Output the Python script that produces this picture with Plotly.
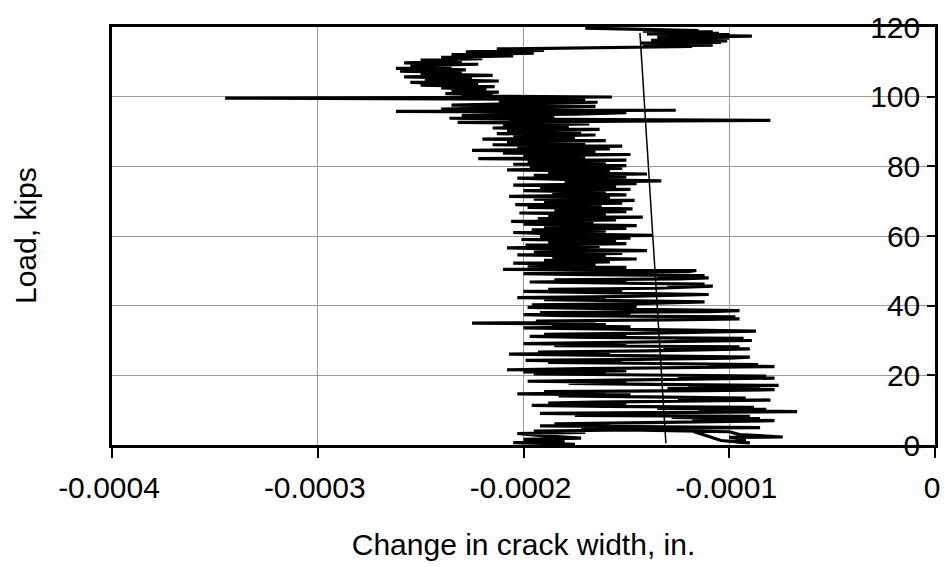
import plotly.graph_objects as go

# crack width readings in micro-inches (converted to inches below) and load in kips
width_uin = [
    -175, -205, -180, -200, -172, -190, -203, -170, -195, -150, -100, -95, -74, -100, -92, -98, -90, -104, -120, -172, -85,
    -150, -192, -158, -185, -140, -110, -78, -118, -85, -128, -90, -175, -145, -192, -100, -67, -115, -82, -135, -88,
    -160, -196, -150, -188, -165, -120, -80, -125, -92, -140, -183, -148, -203, -160, -190, -112, -78, -130, -85, -120,
    -76, -138, -178, -150, -198, -155, -105, -78, -125, -82,
    -140, -195, -160, -200, -150, -208, -170, -125, -78, -110, -86, -135, -188, -152, -199, -145, -100, -90, -128, -170,
    -207, -158, -193, -140, -105, -90, -132, -95, -185, -150, -200, -162, -118, -89, -126, -93, -168, -197, -150, -190,
    -138, -100, -87, -120, -175, -200, -148, -186, -160, -225, -165, -194, -130, -95, -122, -97, -180, -200, -148, -192,
    -110, -95, -135, -170, -198, -145,
    -196, -150, -120, -112, -145, -190, -160, -203, -155, -130, -110, -140, -175, -200, -152, -188, -135, -115, -108, -130,
    -112, -160, -197, -150, -185, -125, -110, -135, -112, -170, -200, -148, -120, -116, -210, -160,
    -150, -198, -165, -205, -158, -190, -145, -186, -160, -203, -152, -195, -140, -180, -208, -163, -199, -150, -188, -155,
    -201, -148, -192, -137, -185, -205, -160, -196, -150, -190, -145, -200, -166, -206, -155, -193, -142, -188, -160, -202,
    -150, -185, -147, -198, -162, -204, -152, -190, -146, -195, -158, -207, -150, -186, -160, -200, -148, -192, -155, -205,
    -145, -180, -133, -175, -203, -150, -195, -140, -188, -158, -208, -152, -197, -150, -205, -160, -198, -150, -222, -170,
    -200, -148, -210, -165, -225, -158, -203, -152, -215, -170, -208, -160, -220, -175, -205, -165, -213, -172, -208, -163,
    -215, -178, -210, -168, -232, -150, -80, -160, -236, -185, -230, -175,
    -150, -262, -126, -240, -200, -165, -235, -190, -164, -212, -170, -345, -157, -230,
    -215, -238, -212, -235, -218, -240, -214, -250, -222, -255, -212, -248, -225, -258, -215, -250, -230, -260, -228, -262,
    -235, -255, -222, -258, -230, -250, -220, -240, -205, -235, -195, -228, -190, -213,
    -170, -140, -118, -142, -108, -135, -112, -143, -104, -130, -101, -138, -106, -128, -100, -135, -103, -89, -120, -100,
    -140, -105, -132, -108, -142, -115, -142, -170,
]
load_kips = [
    0.2, 0.7, 1.1, 1.6, 2.0, 2.6, 3.3, 3.6, 4.0, 4.3, 3.8, 3.0, 2.3, 2.2, 1.6, 0.9, 0.6, 1.3, 4.4, 4.7, 5.0,
    5.2, 5.5, 5.8, 6.1, 6.4, 6.7, 7.0, 7.3, 7.6, 7.9, 8.2, 8.5, 8.8, 9.1, 9.4, 9.6, 9.9, 10.2, 10.5, 10.8,
    11.1, 11.4, 11.7, 12.0, 12.3, 12.6, 12.9, 13.2, 13.5, 13.8, 14.1, 14.4, 14.7, 15.0, 15.3, 15.6, 15.9, 16.2, 16.5, 16.8,
    17.1, 17.4, 17.7, 18.0, 18.3, 18.6, 18.9, 19.2, 19.5, 19.8,
    20.1, 20.4, 20.7, 21.0, 21.3, 21.6, 21.9, 22.2, 22.5, 22.8, 23.1, 23.4, 23.7, 24.0, 24.3, 24.6, 24.9, 25.2, 25.5, 25.8,
    26.1, 26.4, 26.7, 27.0, 27.3, 27.6, 27.9, 28.2, 28.5, 28.8, 29.1, 29.4, 29.7, 30.0, 30.3, 30.6, 30.9, 31.2, 31.5, 31.8,
    32.1, 32.4, 32.7, 33.0, 33.3, 33.6, 33.9, 34.2, 34.6, 35.0, 35.3, 35.6, 35.9, 36.2, 36.5, 36.8, 37.1, 37.4, 37.7, 38.0,
    38.3, 38.6, 38.9, 39.2, 39.5, 39.8,
    40.2, 40.5, 40.8, 41.1, 41.4, 41.7, 42.0, 42.3, 42.6, 42.9, 43.2, 43.5, 43.8, 44.1, 44.4, 44.7, 45.0, 45.3, 45.6, 45.9,
    46.2, 46.5, 46.8, 47.1, 47.4, 47.7, 48.0, 48.3, 48.6, 48.9, 49.2, 49.5, 49.8, 50.1, 50.4, 50.7,
    51.0, 51.4, 51.8, 52.2, 52.6, 53.0, 53.4, 53.8, 54.2, 54.6, 55.0, 55.4, 55.8, 56.2, 56.6, 57.0, 57.4, 57.8, 58.2, 58.6,
    59.0, 59.4, 59.8, 60.2, 60.6, 61.0, 61.4, 61.8, 62.2, 62.6, 63.0, 63.4, 63.8, 64.2, 64.6, 65.0, 65.4, 65.8, 66.2, 66.6,
    67.0, 67.4, 67.8, 68.2, 68.6, 69.0, 69.4, 69.8, 70.2, 70.6, 71.0, 71.4, 71.8, 72.2, 72.6, 73.0, 73.4, 73.8, 74.2, 74.6,
    75.0, 75.4, 75.8, 76.2, 76.6, 77.0, 77.4, 77.8, 78.2, 78.6, 79.0, 79.4, 79.8, 80.2, 80.6, 81.0, 81.4, 81.8, 82.2, 82.6,
    83.0, 83.4, 83.8, 84.2, 84.6, 85.0, 85.4, 85.8, 86.2, 86.6, 87.0, 87.4, 87.8, 88.2, 88.6, 89.0, 89.4, 89.8, 90.2, 90.6,
    91.0, 91.4, 91.8, 92.2, 92.6, 93.0, 93.2, 93.4, 93.8, 94.2, 94.6, 95.0,
    95.4, 95.8, 96.1, 96.4, 96.8, 97.2, 97.6, 98.0, 98.4, 98.8, 99.2, 99.6, 99.9, 100.2,
    100.5, 100.9, 101.3, 101.7, 102.1, 102.5, 102.9, 103.3, 103.7, 104.1, 104.5, 104.9, 105.3, 105.7, 106.1, 106.5, 106.9, 107.3, 107.7, 108.1,
    108.5, 108.9, 109.3, 109.7, 110.1, 110.5, 110.9, 111.3, 111.7, 112.1, 112.5, 112.9, 113.3, 113.7,
    114.0, 114.2, 114.4, 114.6, 114.8, 115.0, 115.2, 115.4, 115.6, 115.8, 116.0, 116.2, 116.4, 116.6, 116.8, 117.0, 117.2, 117.4, 117.6, 117.8,
    118.0, 118.2, 118.4, 118.6, 118.8, 119.0, 119.3, 119.7,
]

# straight reference line
line_uin = [-130.8, -143.4]
line_kips = [0.5, 118.3]

x_ticks = [-0.0004, -0.0003, -0.0002, -0.0001, 0]
x_labels = ["-0.0004", "-0.0003", "-0.0002", "-0.0001", "0"]
y_ticks = [0, 20, 40, 60, 80, 100, 120]

FONT = "Liberation Sans, Arial, sans-serif"

fig = go.Figure()

fig.add_trace(
    go.Scatter(
        x=[v * 1e-6 for v in width_uin],
        y=load_kips,
        mode="lines",
        line=dict(color="black", width=3.2),
        showlegend=False,
    )
)

fig.add_trace(
    go.Scatter(
        x=[v * 1e-6 for v in line_uin],
        y=line_kips,
        mode="lines",
        line=dict(color="black", width=1.5),
        showlegend=False,
    )
)

fig.update_xaxes(
    range=[-0.0004, 0],
    tickvals=x_ticks,
    ticktext=x_labels,
    ticks="outside",
    ticklen=10,
    tickwidth=1.5,
    tickcolor="black",
    ticklabeloverflow="allow",
    ticklabelstandoff=4,
    ticklabelshift=-3,
    showline=True,
    linecolor="black",
    linewidth=2.5,
    mirror=True,
    showgrid=True,
    gridcolor="#9a9a9a",
    gridwidth=1,
    zeroline=False,
    tickfont=dict(family=FONT, size=30, color="black"),
    title=dict(text="Change in crack width, in.", font=dict(family=FONT, size=30, color="black"), standoff=32),
    automargin=False,
)

fig.update_yaxes(
    range=[0, 120],
    tickvals=y_ticks,
    side="right",
    ticks="inside",
    ticklen=8,
    tickwidth=1.5,
    tickcolor="black",
    ticklabelposition="inside",
    ticklabeloverflow="allow",
    ticklabelstandoff=10,
    showline=True,
    linecolor="black",
    linewidth=2.5,
    mirror=True,
    showgrid=True,
    gridcolor="#9a9a9a",
    gridwidth=1,
    zeroline=False,
    tickfont=dict(family=FONT, size=30, color="black"),
    automargin=False,
)

fig.add_annotation(
    text="Load, kips",
    xref="paper",
    yref="paper",
    x=-0.1057,
    y=0.5,
    xanchor="center",
    yanchor="middle",
    textangle=-90,
    showarrow=False,
    font=dict(family=FONT, size=30, color="black"),
)

fig.update_layout(
    width=950,
    height=567,
    margin=dict(l=112, r=15, t=27, b=122),
    paper_bgcolor="white",
    plot_bgcolor="white",
)

# drop the default 8px page margin so the figure fills the window exactly
fig.write_html(
    "out.html",
    config={"displayModeBar": False},
    post_script="document.body.style.margin='0';",
)
